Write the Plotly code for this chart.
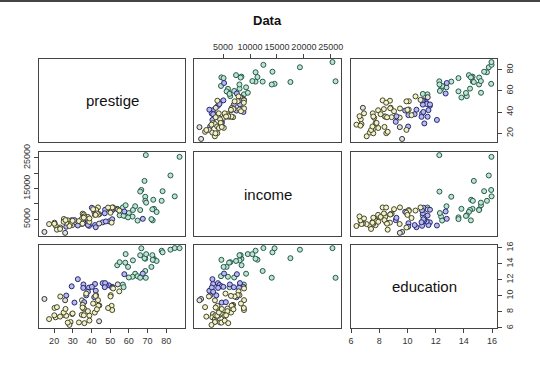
import plotly.graph_objects as go

# Prestige data (education, income, prestige, type) in dataset order
education = [13.11, 12.26, 12.77, 11.42, 14.62, 15.64, 15.09, 15.44, 14.52, 14.64,
             12.39, 12.30, 13.83, 14.44, 14.36, 14.21, 15.77, 14.15, 15.22, 14.50,
             15.97, 13.62, 15.08, 15.96, 15.94, 14.71, 12.46, 9.45, 13.62, 15.21,
             12.79, 11.09, 12.71, 11.44, 11.59, 11.49, 11.32, 10.64, 11.36, 9.17,
             12.09, 11.04, 9.22, 10.07, 10.51, 11.20, 11.13, 11.43, 11.00, 9.84,
             11.13, 10.05, 9.62, 9.93, 11.60, 11.09, 11.03, 9.47, 10.93, 7.74,
             8.50, 10.57, 9.46, 7.33, 7.11, 7.58, 6.84, 8.60, 8.88, 7.54,
             7.64, 7.64, 7.42, 6.69, 6.74, 10.09, 8.81, 8.40, 7.92, 8.43,
             8.78, 8.76, 10.29, 6.38, 8.10, 10.10, 6.67, 9.05, 9.93, 8.24,
             6.92, 6.60, 7.81, 8.33, 7.52, 12.27, 8.49, 7.58, 7.93, 8.37,
             10.00, 8.55]
income = [12351, 25879, 9271, 8865, 8403, 11030, 8258, 14163, 11377, 11023,
          5902, 7059, 8425, 8049, 7405, 6336, 19263, 6112, 9593, 4686,
          12480, 5648, 8034, 25308, 14558, 17498, 4614, 3485, 5092, 10432,
          5180, 6197, 7562, 8206, 4036, 3148, 4348, 2448, 4330, 4761,
          3016, 2901, 5511, 3739, 3161, 4741, 5052, 6259, 4075, 7482,
          8780, 2594, 918, 2370, 8131, 6992, 7956, 8895, 8891, 3116,
          3930, 7869, 611, 3000, 3472, 3582, 3643, 1656, 6860, 4199,
          5134, 5134, 1890, 4443, 3485, 8043, 6686, 6565, 6477, 5811,
          6573, 3942, 5449, 2847, 5795, 7716, 4696, 8316, 7147, 8880,
          5299, 5959, 4549, 6928, 3910, 14032, 8845, 5562, 4224, 4753,
          6462, 3617]
prestige = [68.8, 69.1, 63.4, 56.8, 73.5, 77.6, 72.6, 78.1, 73.1, 68.8,
            62.0, 60.0, 53.8, 62.2, 74.9, 55.1, 82.3, 58.1, 58.3, 72.8,
            84.6, 59.6, 66.1, 87.2, 66.7, 68.4, 64.7, 34.9, 72.1, 69.3,
            67.5, 57.2, 57.6, 54.1, 46.0, 41.9, 49.4, 42.3, 47.7, 30.9,
            32.7, 38.7, 36.1, 37.2, 38.1, 29.4, 51.1, 35.7, 35.6, 41.5,
            40.2, 26.5, 14.8, 23.3, 47.3, 47.1, 51.1, 43.5, 51.6, 29.7,
            20.2, 54.9, 25.9, 20.8, 17.3, 20.1, 44.1, 21.5, 35.3, 38.9,
            25.2, 34.8, 23.2, 33.3, 28.8, 42.5, 44.2, 35.9, 41.8, 35.9,
            43.7, 50.8, 37.2, 28.2, 38.1, 50.3, 27.3, 40.9, 50.2, 51.1,
            38.9, 36.2, 29.9, 42.9, 26.5, 66.1, 48.9, 35.9, 25.1, 26.1,
            42.2, 35.2]
occ_type = (["prof"] * 27 + ["bc", "prof", "prof", "wc", "prof", "wc", "NA"]
            + ["wc"] * 18 + ["NA", "bc", "wc", "wc", "wc", "bc", "bc", "bc",
               "bc", "bc", "NA", "bc", "bc", "bc", "NA"]
            + ["bc"] * 28 + ["prof"] + ["bc"] * 6)

var_names = ["prestige", "income", "education"]
# tick values for horizontal (x) and vertical (y) axes of each variable
x_tick_vals = {
    "prestige": [20, 30, 40, 50, 60, 70, 80],
    "income": [5000, 10000, 15000, 20000, 25000],
    "education": [6, 8, 10, 12, 14, 16],
}
y_tick_vals = {
    "prestige": [20, 40, 60, 80],
    "income": [5000, 10000, 15000, 20000, 25000],
    "education": [6, 8, 10, 12, 14, 16],
}
income_y_labels = ["5000", "", "15000", "", "25000"]
title_text = "Data"

data = {"prestige": prestige, "income": income, "education": education}
type_fill = {"bc": "#f2f2c8", "wc": "#b8bae8", "prof": "#c2e2d4", "NA": "#e2e2e2"}
type_line = {"bc": "#44442c", "wc": "#262676", "prof": "#225c48", "NA": "#333333"}
fills = [type_fill[t] for t in occ_type]
lines = [type_line[t] for t in occ_type]


def rrange(v):
    lo, hi = min(v), max(v)
    e = (hi - lo) * 0.04
    return [lo - e, hi + e]


W, H = 540, 370
col_px = [(39, 185), (194, 341), (351, 497)]
row_px = [(59, 142), (152, 236), (245, 328)]

# which sides carry labelled axes (R pairs convention)
x_labelled = {(0, 1): "top", (2, 0): "bottom", (2, 2): "bottom"}
y_labelled = {(0, 2): "right", (1, 0): "left", (2, 2): "right"}

tickfont = dict(family="Liberation Sans, Arial, sans-serif", size=9, color="#333")

fig = go.Figure()
layout = {}
annotations = []

for r in range(3):
    for c in range(3):
        k = r * 3 + c + 1
        xname = "xaxis" if k == 1 else f"xaxis{k}"
        yname = "yaxis" if k == 1 else f"yaxis{k}"
        xref = "x" if k == 1 else f"x{k}"
        yref = "y" if k == 1 else f"y{k}"
        xv, yv = var_names[c], var_names[r]
        xdom = [col_px[c][0] / W, col_px[c][1] / W]
        ydom = [1 - row_px[r][1] / H, 1 - row_px[r][0] / H]

        xa = dict(domain=xdom, range=rrange(data[xv]), anchor=yref,
                  showline=True, mirror=True, linecolor="#444", linewidth=1,
                  showgrid=False, zeroline=False, fixedrange=True,
                  automargin=False)
        if (r, c) in x_labelled:
            vals = x_tick_vals[xv]
            xa.update(side=x_labelled[(r, c)], ticks="outside", ticklen=4,
                      tickcolor="#444", tickvals=vals, tickangle=0,
                      ticktext=[str(v) for v in vals], tickfont=tickfont,
                      showticklabels=True)
        else:
            xa.update(ticks="", showticklabels=False)

        ya = dict(domain=ydom, range=rrange(data[yv]), anchor=xref,
                  showline=True, mirror=True, linecolor="#444", linewidth=1,
                  showgrid=False, zeroline=False, fixedrange=True,
                  automargin=False)
        if (r, c) in y_labelled:
            vals = y_tick_vals[yv]
            if yv == "income":
                txt = income_y_labels
            else:
                txt = [str(v) for v in vals]
            ya.update(side=y_labelled[(r, c)], ticks="outside", ticklen=4,
                      tickcolor="#444", tickvals=vals, ticktext=txt,
                      tickfont=tickfont, tickangle=-90, showticklabels=True)
        else:
            ya.update(ticks="", showticklabels=False)

        layout[xname] = xa
        layout[yname] = ya

        if r == c:
            # empty trace so the panel box is drawn
            fig.add_trace(go.Scatter(x=[None], y=[None], mode="markers",
                                     xaxis=xref, yaxis=yref, showlegend=False,
                                     hoverinfo="skip"))
            annotations.append(dict(
                text=var_names[r], x=(xdom[0] + xdom[1]) / 2,
                y=(ydom[0] + ydom[1]) / 2, xref="paper", yref="paper",
                xanchor="center", yanchor="middle", showarrow=False,
                font=dict(family="Liberation Sans, Arial, sans-serif",
                          size=15, color="#111")))
        else:
            fig.add_trace(go.Scatter(
                x=data[xv], y=data[yv], mode="markers", xaxis=xref, yaxis=yref,
                showlegend=False, hoverinfo="skip",
                marker=dict(size=5, symbol="circle", color=fills,
                            line=dict(color=lines, width=1))))

annotations.append(dict(
    text=f"<b>{title_text}</b>", x=267 / W, y=1 - 20 / H, xref="paper",
    yref="paper", xanchor="center", yanchor="middle", showarrow=False,
    font=dict(family="Liberation Sans, Arial, sans-serif", size=13, color="#111")))

fig.update_layout(
    width=W, height=H, margin=dict(l=0, r=0, t=0, b=0, autoexpand=False),
    paper_bgcolor="white", plot_bgcolor="white",
    annotations=annotations,
    shapes=[dict(type="rect", xref="paper", yref="paper", x0=0, x1=1,
                 y0=1 - 2 / H, y1=1, fillcolor="#444", line=dict(width=0))],
    **layout)

fig.write_html(
    "out.html",
    config={"displayModeBar": False},
    post_script=(
        "document.body.style.margin='0';"
        "document.body.style.overflow='hidden';"
        "var d=document.getElementById('{plot_id}');"
        "d.style.position='absolute';d.style.top='0px';d.style.left='0px';"
    ),
)
